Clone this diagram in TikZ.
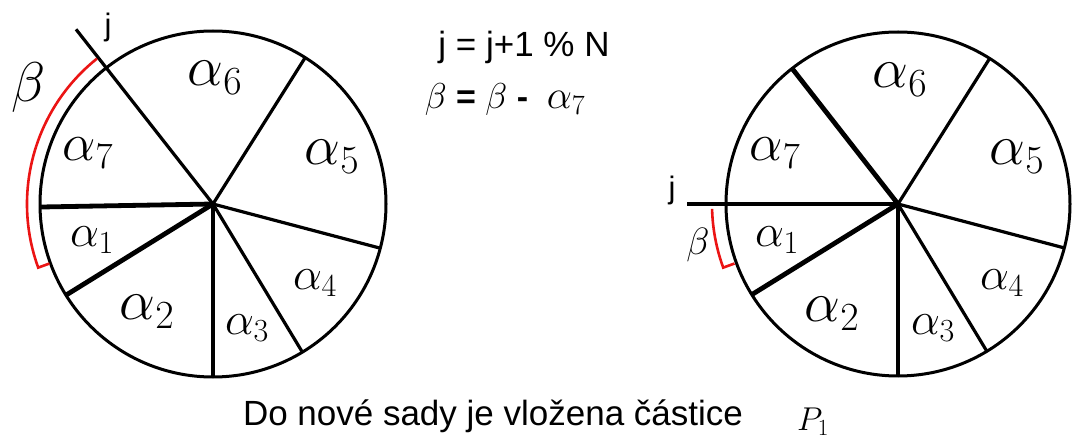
\RequirePackage{fix-cm}
\documentclass[tikz,border=0pt]{standalone}
\usepackage[no-math]{fontspec}
\setmainfont{Liberation Sans}
\definecolor{arcred}{RGB}{235,20,20}
\newcommand{\fsz}[1]{\fontsize{#1}{#1}\selectfont}
\begin{document}
\begin{tikzpicture}[x=1pt,y=1pt,
  circ/.style={line width=3pt},
  spoke/.style={line width=3.2pt},
  tspoke/.style={line width=4.8pt},
  redarc/.style={arcred,line width=2.6pt},
  abig/.style={inner sep=0pt,font=\fsz{57}},
  amid/.style={inner sep=0pt,font=\fsz{53}},
  asmall/.style={inner sep=0pt,font=\fsz{46}},
  txt/.style={inner sep=0pt,font=\fsz{35}},
  eqtxt/.style={inner sep=0pt,font=\fsz{34}},
  jlab/.style={inner sep=0pt,font=\fsz{31}}]
\useasboundingbox (0,0) rectangle (1080,445);

% ---------- left wheel ----------
\coordinate (L) at (213,241);
\draw[circ] (L) circle[radius=173];
\foreach \a in {57.8,-14.8,-58.9,-90}
  \draw[spoke] (L) -- ++(\a:173);
\draw[tspoke] (L) -- ++(211.8:173);
\draw[tspoke] (L) -- ++(181:173);
\coordinate (Lj) at ([shift={(128.1:222)}]L);
\draw[spoke] (L) -- (Lj);
\draw[redarc] ([shift={(128.6:186)}]L) arc[start angle=128.6, end angle=200, radius=186]
  -- ([shift={(200:174)}]L);

\node[abig]   (l6) at (215,367) {$\alpha_6$};
\node[abig]   (l5) at (332,288) {$\alpha_5$};
\node[amid]   (l7) at (88,292)  {$\alpha_7$};
\node[asmall] (l1) at (92,205)  {$\alpha_1$};
\node[abig]   (l2) at (147,133) {$\alpha_2$};
\node[asmall] (l3) at (247,117) {$\alpha_3$};
\node[asmall] (l4) at (315,162) {$\alpha_4$};
\node[inner sep=0pt,font=\fsz{56}] (lb) at (29,357) {$\beta$};
\node[jlab] (lj) at (108,418) {j};

% ---------- right wheel ----------
\coordinate (R) at (898,241);
\draw[circ] (R) circle[radius=172];
\foreach \a in {57.8,-14.8,-58.9,-90}
  \draw[spoke] (R) -- ++(\a:172);
\draw[tspoke] (R) -- ++(211.8:172);
\draw[tspoke] (R) -- ++(128:172);
\coordinate (Rj) at ([shift={(180:211)}]R);
\draw[tspoke] (R) -- (Rj);
\draw[redarc] ([shift={(181.5:186)}]R) arc[start angle=181.5, end angle=200, radius=186]
  -- ([shift={(200:174)}]R);

\node[abig]   (r6) at (900,365) {$\alpha_6$};
\node[abig]   (r5) at (1017,288) {$\alpha_5$};
\node[amid]   (r7) at (775,292) {$\alpha_7$};
\node[asmall] (r1) at (777,205) {$\alpha_1$};
\node[abig]   (r2) at (832,131) {$\alpha_2$};
\node[asmall] (r3) at (933,117) {$\alpha_3$};
\node[asmall] (r4) at (1002,162) {$\alpha_4$};
\node[inner sep=0pt,font=\fsz{38}] (rb) at (698,200) {$\beta$};
\node[jlab] (rj) at (672,255) {j};

% ---------- texts ----------
\node[txt] (t1) at (524,398) {j = j+1 \% N};
\node[eqtxt] (t2) at (505,345) {{\fsz{36}$\beta$} \textbf{=} {\fsz{36}$\beta$} \textbf{-}\ \ {\fsz{40}$\alpha_7$}};
\node[txt] (t3) at (493,29) {Do nové sady je vložena částice};
\node[inner sep=0pt,font=\fsz{33}] (t4) at (813,23) {$P_1$};
\end{tikzpicture}
\end{document}
